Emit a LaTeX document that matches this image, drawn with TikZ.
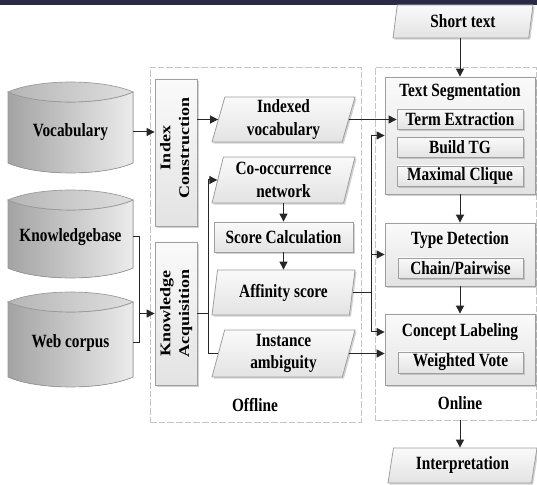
\documentclass[tikz,border=0pt]{standalone}
\usepackage{fontspec}
\setmainfont{Liberation Serif}[FakeStretch=0.82]
\newfontfamily\rotfont{Liberation Serif}
\usepackage{graphicx}
\usetikzlibrary{shapes.geometric,shadows,arrows.meta,calc}
\definecolor{barcol}{HTML}{2B2A44}
\definecolor{linecol}{HTML}{262626}
\newcommand{\mycyl}[2]{%
  \fill[left color=gray!72, right color=gray!15, draw=gray!80, line width=0.5pt]
    (8,#1) -- (8,#2) .. controls (38,#2+13.3) and (103,#2+13.3) .. (133,#2)
    -- (133,#1) .. controls (103,#1+13.3) and (38,#1+13.3) .. (8,#1) -- cycle;
  \draw[left color=gray!58, right color=gray!25, draw=gray!80, line width=0.5pt]
    (8,#1) .. controls (38,#1-13.3) and (103,#1-13.3) .. (133,#1)
    .. controls (103,#1+13.3) and (38,#1+13.3) .. (8,#1) -- cycle;
}
\newcommand{\rottext}[1]{\rotatebox{90}{\scalebox{1}[0.82]{\rotfont\bfseries\fontsize{13.5}{17}\selectfont\begin{tabular}{@{}c@{}}#1\end{tabular}}}}
\tikzset{
  txt/.style={font=\bfseries\fontsize{14}{17}\selectfont, align=center, inner sep=0pt, text=black},
  boxs/.style={draw=gray!75, line width=0.6pt, top color=gray!4, bottom color=gray!22,
    drop shadow={shadow xshift=1.2pt, shadow yshift=-1.2pt, opacity=0.35, fill=gray}},
  sub/.style={boxs, txt, minimum width=126*0.75pt, minimum height=20*0.75pt},
  para/.style={boxs, txt, trapezium, trapezium left angle=72, trapezium right angle=108,
    trapezium stretches body},
  dashbox/.style={draw=gray!45, line width=0.6pt, dash pattern=on 5pt off 1.5pt},
  conn/.style={draw=linecol, line width=0.75pt},
  arr/.style={conn, -{Triangle[length=6pt,width=6pt]}},
}
\begin{document}
\begin{tikzpicture}[x=0.75pt, y=-0.75pt]
\useasboundingbox (0,0) rectangle (537,485);
\fill[white] (0,0) rectangle (537,485);
\fill[barcol] (0,0) rectangle (537,5);

% dashed frames
\node[dashbox, minimum width=211*0.75pt, minimum height=355*0.75pt, inner sep=0pt] (offline) at (255.5,244.5) {};
\node[dashbox, minimum width=161*0.75pt, minimum height=353*0.75pt, inner sep=0pt] (online) at (455.5,243.5) {};
\node[txt] (offl) at (255,405) {Offline};
\node[txt] (onl) at (460,403) {Online};

% cylinders
\mycyl{92}{163}
\mycyl{200}{268}
\mycyl{302}{377}
\node[txt, minimum width=125*0.75pt] (vocab) at (70.5,132) {Vocabulary};
\node[txt, minimum width=125*0.75pt] (kb) at (70.5,237) {Knowledgebase};
\node[txt, minimum width=125*0.75pt] (web) at (70.5,343) {Web corpus};

% offline boxes
\node[boxs, inner sep=0pt, minimum width=42*0.75pt, minimum height=147*0.75pt] (idxc) at (176,152.5) {};
\node[inner sep=0pt] (idxct) at (176,148) {\rottext{Index\\Construction}};
\node[boxs, inner sep=0pt, minimum width=42*0.75pt, minimum height=143*0.75pt] (kacq) at (176,313.5) {\rottext{Knowledge\\Acquisition}};

\node[para, minimum width=143*0.75pt, minimum height=45*0.75pt] (idxvoc) at (283.5,119.5) {Indexed\\vocabulary};
\node[para, minimum width=143*0.75pt, minimum height=46*0.75pt] (cooc) at (283.5,180) {Co-occurrence\\network};
\node[boxs, txt, minimum width=139*0.75pt, minimum height=30*0.75pt] (score) at (283.5,237) {Score Calculation};
\node[para, minimum width=143*0.75pt, minimum height=45*0.75pt] (aff) at (283.5,292.5) {Affinity score};
\node[para, minimum width=143*0.75pt, minimum height=47*0.75pt] (inst) at (283.5,353.5) {Instance\\ambiguity};

% online boxes
\node[para, minimum width=140*0.75pt, minimum height=33*0.75pt] (short) at (463,21.5) {Short text};
\node[boxs, minimum width=150*0.75pt, minimum height=117*0.75pt] (ts) at (460,135.5) {};
\node[txt] (tslbl) at (460,92) {Text Segmentation};
\node[sub] (term) at (460,119) {Term Extraction};
\node[sub] (btg) at (460,147.5) {Build TG};
\node[sub] (mc) at (460,176) {Maximal Clique};

\node[boxs, minimum width=150*0.75pt, minimum height=63*0.75pt] (td) at (460,254.5) {};
\node[txt] (tdlbl) at (460,240) {Type Detection};
\node[sub, minimum width=125*0.75pt] (cp) at (460.5,268) {Chain/Pairwise};

\node[boxs, minimum width=150*0.75pt, minimum height=71*0.75pt] (cl) at (460,349.5) {};
\node[txt] (cllbl) at (460,332) {Concept Labeling};
\node[sub, minimum width=125*0.75pt, minimum height=21*0.75pt] (wv) at (460.5,362.5) {Weighted Vote};

\node[para, minimum width=149*0.75pt, minimum height=35*0.75pt] (interp) at (462.5,465.5) {Interpretation};

% connectors
\draw[arr] (vocab.east) -- (vocab.east -| idxc.west);
\draw[arr] (idxvoc.west -| idxc.east) -- (idxvoc.west);
\coordinate (j1) at ([xshift=-15*0.75pt]kacq.west);
\draw[conn] (kb.east) -| (j1);
\draw[conn] (web.east) -| (j1);
\draw[arr] (j1) -- (kacq.west);
\coordinate (j2) at ([xshift=11*0.75pt]kacq.east);
\draw[conn] (kacq.east) -- (j2);
\draw[arr] (j2) |- (cooc.west);
\draw[conn] (j2) |- (inst.west);
\draw[arr] (score.north |- cooc.south) -- (score.north);
\draw[arr] (score.south) -- (score.south |- aff.north);
\coordinate (busx) at (371,0);
\coordinate (bus) at (aff.east -| busx);
\draw[conn] (aff.east) -- (bus);
\draw[arr] (bus) |- (ts.west);
\draw[arr] (bus) |- (td.west);
\draw[arr] (bus) |- (cl.west |- cllbl);
\draw[arr] (inst.east) -- (inst.east -| cl.west);
\draw[arr] (idxvoc.east) -- (idxvoc.east -| term.west);
\draw[arr] (ts.north |- short.south) -- (ts.north);
\draw[arr] (ts.south) -- (td.north);
\draw[arr] (td.south) -- (cl.north);
\draw[arr] (online.south -| ts.south) -- (interp.north -| ts.south);
\end{tikzpicture}
\end{document}
